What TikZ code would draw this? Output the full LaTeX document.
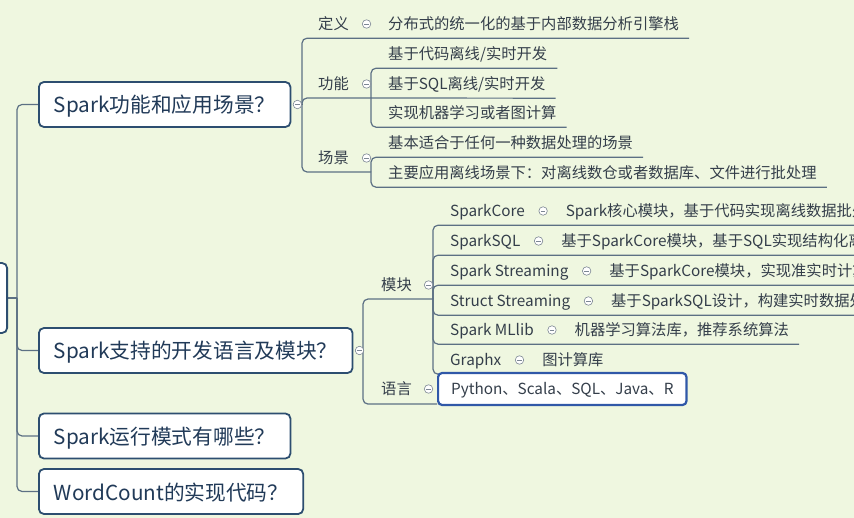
\documentclass[tikz,border=0pt]{standalone}
\usepackage{fontspec}
\setmainfont{Noto Sans CJK SC}
\usetikzlibrary{positioning}
\pgfdeclarelayer{bg}
\pgfsetlayers{bg,main}
\definecolor{bgcolor}{RGB}{239,247,224}
\definecolor{topiccolor}{RGB}{45,78,112}
\definecolor{topictext}{RGB}{33,58,88}
\definecolor{subcolor}{RGB}{52,62,74}
\definecolor{linkcolor}{RGB}{92,112,132}
\definecolor{foldcolor}{RGB}{125,135,148}
\definecolor{selcolor}{RGB}{48,88,168}
\tikzset{
  topicbox/.style={draw=topiccolor, line width=1.8pt, rounded corners=5pt, fill=white,
    text=topictext, font=\fontsize{20.7}{24}\selectfont, inner xsep=15pt, inner ysep=0pt,
    text height=18pt, text depth=1pt, minimum height=45pt, anchor=west},
  subtxt/.style={text=subcolor, font=\fontsize{15.3}{18}\selectfont, inner xsep=0pt,
    inner ysep=0pt, text height=13pt, text depth=1pt, minimum height=28pt, anchor=west},
  fold/.style={circle, draw=foldcolor, fill=white, line width=0.6pt, inner sep=0pt,
    minimum size=8.5pt, path picture={\draw[foldcolor, line width=0.6pt]
      ([xshift=-2.2pt]path picture bounding box.center) --
      ([xshift=2.2pt]path picture bounding box.center);}},
  branch/.style={draw=linkcolor, line width=1.2pt, rounded corners=5pt},
  selbox/.style={draw=selcolor, line width=2.2pt, rounded corners=4pt, fill=white,
    text=subcolor, font=\fontsize{15.3}{18}\selectfont, inner xsep=13pt, inner ysep=0pt,
    text height=13pt, text depth=1pt, minimum height=32pt, anchor=west},
}

\begin{document}
\begin{tikzpicture}[x=1pt, y=-1pt]
    \useasboundingbox (0,0) rectangle (854,518);
    \clip (0,0) rectangle (854,518);

    % main topics
    \node[topicbox, anchor=east, minimum width=90pt, minimum height=70pt] (root) at (8,298) {};
    \node[topicbox] (q1) at (38,104.5) {Spark功能和应用场景？};
    \node[topicbox] (q2) at (38,350.5) {Spark支持的开发语言及模块？};
    \node[topicbox] (q3) at (38,436) {Spark运行模式有哪些？};
    \node[topicbox] (q4) at (38,491.5) {WordCount的实现代码？};
    \node[fold, right=1.5pt of q1] (f1) {};
    \node[fold, right=1.5pt of q2] (f2) {};

    % Spark功能和应用场景
    \node[subtxt] (dy) at (318,24) {定义};
    \node[fold, right=13pt of dy] (fdy) {};
    \node[subtxt] (dyt) at (388,24) {分布式的统一化的基于内部数据分析引擎栈};
    \node[subtxt] (gn) at (318,84) {功能};
    \node[fold, right=13pt of gn] (fgn) {};
    \node[subtxt] (g1) at (388,54) {基于代码离线/实时开发};
    \node[subtxt] (g2) at (388,84) {基于SQL离线/实时开发};
    \node[subtxt] (g3) at (388,113) {实现机器学习或者图计算};
    \node[subtxt] (cj) at (318,158) {场景};
    \node[fold, right=13pt of cj] (fcj) {};
    \node[subtxt] (c1) at (388,143) {基本适合于任何一种数据处理的场景};
    \node[subtxt] (c2) at (388,173) {主要应用离线场景下：对离线数仓或者数据库、文件进行批处理};

    % Spark支持的开发语言及模块
    \node[subtxt] (mk) at (381,285) {模块};
    \node[fold, right=12pt of mk] (fmk) {};
    \node[subtxt] (yy) at (381,389) {语言};
    \node[fold, right=12pt of yy] (fyy) {};
    \node[subtxt] (m1) at (450,211) {SparkCore};
    \node[fold, right=13.5pt of m1] (fm1) {};
    \node[subtxt, right=18pt of fm1] (m1t) {Spark核心模块，基于代码实现离线数据批处理};
    \node[subtxt] (m2) at (450,241) {SparkSQL};
    \node[fold, right=13.5pt of m2] (fm2) {};
    \node[subtxt, right=18pt of fm2] (m2t) {基于SparkCore模块，基于SQL实现结构化离线数据处理};
    \node[subtxt] (m3) at (450,271) {Spark Streaming};
    \node[fold, right=13.5pt of m3] (fm3) {};
    \node[subtxt, right=18pt of fm3] (m3t) {基于SparkCore模块，实现准实时计算};
    \node[subtxt] (m4) at (450,301) {Struct Streaming};
    \node[fold, right=13.5pt of m4] (fm4) {};
    \node[subtxt, right=18pt of fm4] (m4t) {基于SparkSQL设计，构建实时数据处理};
    \node[subtxt] (m5) at (450,330) {Spark MLlib};
    \node[fold, right=13.5pt of m5] (fm5) {};
    \node[subtxt, right=18pt of fm5] (m5t) {机器学习算法库，推荐系统算法};
    \node[subtxt] (m6) at (450,360) {Graphx};
    \node[fold, right=13.5pt of m6] (fm6) {};
    \node[subtxt, right=18pt of fm6] (m6t) {图计算库};
    \node[selbox] (py) at (437,389) {Python、Scala、SQL、Java、R};

    \coordinate (tk) at (17,298);
    \coordinate (j1) at (302,104.5);
    \coordinate (j2) at (371,98);
    \coordinate (j3) at (371,172);
    \coordinate (j4) at (363,350.5);
    \coordinate (j5) at (433,299);

    \begin{pgfonlayer}{bg}
    \fill[bgcolor] (0,0) rectangle (854,518);
    \draw[branch] (root.east) -- (tk);
    \foreach \q in {q1,q2,q3,q4}
      \draw[branch] (tk) |- (\q.west);
    \draw[branch] (f1) -- (j1);
    \draw[branch] (j1) |- ([xshift=10pt]dyt.south east);
    \draw[branch] (j1) |- (j2);
    \draw[branch] (j1) |- (j3);
    \draw[branch] (j2) |- ([xshift=10pt]g1.south east);
    \draw[branch] (j2) -- ([xshift=10pt]g2.south east);
    \draw[branch] (j2) |- ([xshift=10pt]g3.south east);
    \draw[branch] (j3) |- ([xshift=10pt]c1.south east);
    \draw[branch] (j3) |- ([xshift=10pt]c2.south east);
    \draw[branch] (f2) -- (j4);
    \draw[branch] (j4) |- (j5);
    \draw[branch] (j4) |- ([yshift=2pt]py.south west);
    \foreach \m in {m1t,m2t,m3t,m4t,m5t,m6t}
      \draw[branch] (j5) |- ([xshift=10pt]\m.south east);
    \end{pgfonlayer}
\end{tikzpicture}
\end{document}
